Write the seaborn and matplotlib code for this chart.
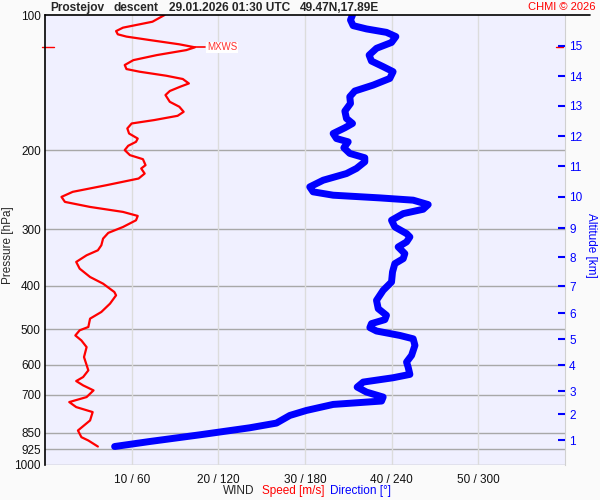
# Wind profile, radiosonde descent - speed and direction vs pressure
import numpy as np
import pandas as pd
import seaborn as sns
import matplotlib.pyplot as plt
from matplotlib.lines import Line2D
import matplotlib.transforms as mtransforms

# speed profile [m/s] on pressure levels [hPa]
spd_p = [100, 103.5, 104.9, 106.7, 108.6, 110.4, 111.7, 113.7, 116.2, 118.0, 119.7, 122.8, 126.0,
         129.2, 131.9, 133.7, 136.5, 138.8, 142.0, 144.4, 147.6, 150.7, 156.0, 160.0, 164.2,
         167.6, 171.3, 174.3, 178.8, 183.5, 188.3, 191.5, 195.4, 199.8, 205.0, 209.3, 215.8,
         219.5, 225.3, 231.1, 239.1, 247.4, 253.9, 260.5, 267.3, 274.2, 279.9, 286.2, 296.2,
         305.3, 314.4, 325.3, 333.8, 342.4, 354.3, 366.7, 382.7, 396.0, 413.3, 420.4, 438.7,
         457.8, 473.7, 494.4, 502.9, 516.3, 529.7, 548.1, 576.8, 617.4, 638.9, 652.2, 666.8,
         684.1, 707.9, 726.3, 745.2, 764.5, 798.0, 840.1, 869.3, 884.3, 912.0]
spd = [13.8, 12.4, 10.9, 9.0, 8.2, 8.4, 9.4, 12.1, 15.5, 17.3, 16.3, 12.9, 10.2,
       9.2, 9.4, 10.9, 14.0, 15.9, 16.6, 15.6, 14.4, 13.9, 14.4, 15.5, 16.0,
       15.3, 12.6, 10.0, 9.5, 9.7, 10.7, 10.5, 9.6, 9.2, 9.8, 11.3, 11.6,
       11.1, 11.5, 10.8, 7.1, 3.2, 1.9, 2.3, 5.2, 9.0, 10.7, 10.5, 9.0,
       7.3, 6.7, 6.5, 6.1, 4.8, 3.6, 4.0, 5.2, 6.7, 8.0, 8.2, 7.5,
       6.5, 5.2, 5.0, 4.0, 3.5, 4.2, 4.8, 4.5, 5.0, 4.4, 3.6, 4.4,
       5.6, 4.8, 2.8, 3.6, 5.5, 5.2, 3.8, 4.2, 5.0, 6.1]

# direction profile [deg]
dir_p = [100, 102.6, 105.6, 107.4, 109.3, 111.7, 115.1, 118.6, 122.8, 126.6, 130.3, 133.7,
         138.4, 143.2, 147.6, 152.0, 157.3, 163.6, 169.9, 174.3, 178.2, 183.5, 188.3, 191.5,
         197.4, 203.2, 207.8, 212.1, 219.5, 225.3, 233.1, 241.2, 247.4, 251.7, 255.2, 258.2,
         264.1, 270.5, 276.6, 286.2, 296.2, 306.4, 311.7, 319.8, 328.1, 339.5, 348.4, 357.4,
         372.9, 392.6, 409.8, 431.3, 450.1, 465.7, 476.1, 486.0, 496.0, 504.7, 516.3, 525.3,
         543.3, 571.8, 591.7, 607.1, 630.3, 641.2, 655.6, 672.6, 690.2, 707.9, 722.5, 735.1,
         758.1, 777.8, 808.9, 828.6, 859.0, 888.9, 912.0]
wdir = [212.9, 211.5, 213.3, 222.6, 236.4, 242.9, 239.9, 229.5, 224.4, 226.0, 234.1, 241.0,
        238.7, 227.2, 214.5, 211.0, 211.5, 207.6, 208.7, 212.9, 207.6, 199.5, 201.8, 209.9,
        206.9, 211.0, 221.4, 221.4, 215.6, 208.7, 192.6, 183.3, 185.6, 199.5, 231.8, 254.9,
        265.3, 261.8, 248.0, 239.9, 242.2, 250.3, 252.6, 250.3, 244.5, 249.1, 248.0, 242.2,
        240.6, 239.9, 234.1, 229.5, 230.7, 236.4, 235.3, 226.0, 224.9, 229.5, 245.7, 254.9,
        256.1, 253.8, 250.3, 251.4, 252.6, 241.0, 220.3, 216.1, 222.6, 234.1, 233.0, 199.5,
        181.0, 169.5, 160.2, 141.7, 107.1, 72.5, 48.2]

p_ticks = [100, 200, 300, 400, 500, 600, 700, 850, 925, 1000]
x_ticks = [10, 20, 30, 40, 50]
x_labels = ['10 / 60', '20 / 120', '30 / 180', '40 / 240', '50 / 300']
alt_km = list(range(1, 16))
alt_p = [884, 774, 688, 602, 527, 461, 401, 346, 298, 254, 217, 186, 159, 137, 117]

mxws_p = 118
mxws_spd = 17.3

df_s = pd.DataFrame({'speed': spd, 'p': spd_p})
df_d = pd.DataFrame({'dir': np.array(wdir) / 6.0, 'p': dir_p})

sns.set_style('white')
plt.rcParams['font.family'] = ['Liberation Sans', 'DejaVu Sans']

fig = plt.figure(figsize=(6, 5), dpi=100, facecolor='#fafafa')
ax = fig.add_axes([45 / 600, 1 - 464.5 / 500, 520 / 600, 449.5 / 500])
ax.set_facecolor('#f0f0ff')

sns.lineplot(data=df_d, x='dir', y='p', sort=False, estimator=None, color='#0000ff',
             lw=5.0, ax=ax, solid_capstyle='round', solid_joinstyle='round', zorder=3)
sns.lineplot(data=df_s, x='speed', y='p', sort=False, estimator=None, color='#ff0000',
             lw=1.6, ax=ax, solid_joinstyle='round', zorder=4)

ax.set_yscale('log')
ax.set_ylim(1000, 100)
ax.set_xlim(0, 60)
ax.set_yticks(p_ticks)
ax.set_yticklabels([str(v) for v in p_ticks])
ax.yaxis.set_minor_locator(plt.NullLocator())
ax.set_xticks(x_ticks)
ax.set_xticklabels(x_labels)
ax.tick_params(axis='both', length=0, labelsize=8.5, colors='#111111')
ax.tick_params(axis='x', pad=7)
ax.tick_params(axis='y', pad=3)
ax.set_xlabel('')
ax.set_ylabel('')

for v in p_ticks[1:]:
    ax.axhline(v, color='#a8a8a8', lw=1.0, zorder=1)
for v in x_ticks:
    ax.axvline(v, color='#dcdcdc', lw=1.0, zorder=1)

for s in ['top', 'bottom']:
    ax.spines[s].set_visible(False)
ax.spines['left'].set_color('black')
ax.spines['left'].set_linewidth(1.2)
ax.spines['right'].set_color('#d0d0d0')

# altitude axis
ax2 = ax.twinx()
ax2.set_yscale('log')
ax2.set_ylim(1000, 100)
ax2.set_yticks(alt_p)
ax2.set_yticklabels([str(v) for v in alt_km])
ax2.yaxis.set_minor_locator(plt.NullLocator())
ax2.tick_params(axis='y', direction='in', length=5, width=1.5, color='#0000ff',
                labelcolor='#0000ff', labelsize=8.5, pad=3)
for s in ax2.spines.values():
    s.set_visible(False)

# axis titles
fig.text(8 / 600, 1 - 245 / 500, 'Pressure [hPa]', fontsize=8.5, rotation=90, ha='center', va='center')
fig.text(591 / 600, 1 - 245 / 500, 'Altitude [km]', fontsize=8.5, rotation=270, color='#0000ff',
         ha='center', va='center')

# MXWS marker
ax.plot([mxws_spd, mxws_spd + 1.2], [mxws_p, mxws_p], color='#ff0000', lw=1.2, zorder=5)
ax.text(mxws_spd + 1.4, mxws_p, 'MXWS', color='#ff3030', fontsize=7, va='center', ha='left',
        bbox=dict(facecolor='white', edgecolor='none', pad=0.5), zorder=6)
tr = mtransforms.blended_transform_factory(ax.transAxes, ax.transData)
ax.plot([-0.005, 0.018], [mxws_p, mxws_p], color='#ff0000', lw=1, transform=tr, clip_on=False)
ax.plot([0.982, 0.997], [mxws_p, mxws_p], color='#ff0000', lw=1, transform=tr, clip_on=False)

# header
fig.add_artist(Line2D([45 / 600, 590 / 600], [1 - 15 / 500, 1 - 15 / 500], color='black', lw=1.2))
hy = 1 - 8 / 500
fig.text(50 / 600, hy, 'Prostejov', fontsize=8.6, fontweight='bold', va='center', ha='left')
fig.text(114 / 600, hy, 'descent', fontsize=8.6, fontweight='bold', va='center', ha='left')
fig.text(169 / 600, hy, '29.01.2026 01:30 UTC', fontsize=8.6, fontweight='bold', va='center', ha='left')
fig.text(300 / 600, hy, '49.47N,17.89E', fontsize=8.6, fontweight='bold', va='center', ha='left')
fig.text(596 / 600, 1 - 7 / 500, 'CHMI \u00a9 2026', color='#ff0000', fontsize=8, va='center', ha='right')

# x axis caption
fig.text(239 / 600, 1 - 491 / 500, 'WIND', fontsize=8.5, ha='center', va='center')
fig.text(293 / 600, 1 - 491 / 500, 'Speed [m/s]', fontsize=8.5, color='#ff0000', ha='center', va='center')
fig.text(360 / 600, 1 - 491 / 500, 'Direction [\u00b0]', fontsize=8.5, color='#0000ff', ha='center', va='center')

fig.savefig('out.png', dpi=100, facecolor=fig.get_facecolor())
